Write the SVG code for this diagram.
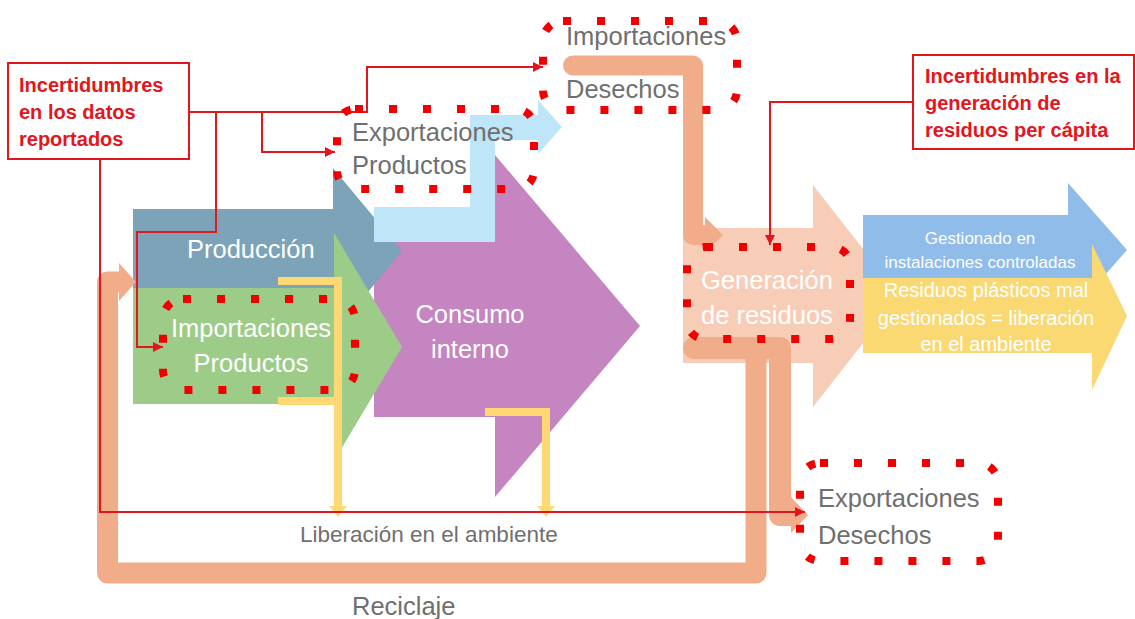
<svg xmlns="http://www.w3.org/2000/svg" width="1135" height="619" viewBox="0 0 1135 619">
<defs>
<style>
.lbl{font-family:"Liberation Sans",Arial,sans-serif;font-size:25.5px;fill:#6f6f6f}
.wht{font-family:"Liberation Sans",Arial,sans-serif;font-size:25.5px;fill:#ffffff}
.sml{font-family:"Liberation Sans",Arial,sans-serif;font-size:17px;fill:#ffffff;text-anchor:middle}
.ylw{font-family:"Liberation Sans",Arial,sans-serif;font-size:20px;fill:#ffffff;text-anchor:middle}
.unc{font-family:"Liberation Sans",Arial,sans-serif;font-size:20px;font-weight:bold;fill:#e3161d}
.dots{fill:none;stroke:#f00000;stroke-width:8;stroke-dasharray:8 26}
.red{fill:none;stroke:#e3161d;stroke-width:2}
.flow{fill:none;stroke:#f1ad8a;stroke-linejoin:round;stroke-linecap:round}
.lib{fill:none;stroke:#fdd873;stroke-width:8}
</style>
<marker id="ah" markerUnits="userSpaceOnUse" markerWidth="10" markerHeight="10" refX="10" refY="5" orient="auto">
<path d="M0,0 L10,5 L0,10 z" fill="#e3161d"/>
</marker>
</defs>
<rect width="1135" height="619" fill="#ffffff"/>

<g id="consumo">
<polygon points="374,215 495,215 495,155 640,326 495,497 495,417 374,417" fill="#c585c1"/>
</g>
<g id="produccion">
<polygon points="133,209 333,209 333,168 402,251 333,334 333,293 133,293" fill="#7ca3b8"/>
</g>
<g id="importaciones-productos">
<polygon points="133,288 334,288 334,233 402,347 334,461 334,404 133,404" fill="#9dcc88"/>
</g>
<g id="exportaciones-productos">
<polygon points="374,207 470,207 470,115 538,115 538,100 562,127 538,154 538,140 495,140 495,242 374,242" fill="#bfe6f8"/>
</g>
<g id="generacion">
<polygon points="683,228 813,228 813,185 900,296 813,407 813,363 683,363" fill="#f8cdb7"/>
</g>
<g id="gestionado">
<polygon points="863,215 1068,215 1068,183 1127,250 1068,317 1068,278 863,278" fill="#8fbce9"/>
</g>
<g id="mal-gestionado">
<polygon points="863,278 1092,278 1092,244 1127,316 1092,390 1092,353 863,353" fill="#fad872"/>
</g>

<g id="connectors">
<path class="flow" stroke-width="20" d="M573,65.5 H693 V235 H706"/>
<polygon points="705,217 723,235 705,253" fill="#f1ad8a"/>
<path class="flow" stroke-width="22" d="M694,348 H780 V515 H792"/>
<polygon points="791,497 808,515 791,533" fill="#f1ad8a"/>
<path class="flow" stroke-width="21" stroke-linecap="butt" d="M756,356 V573 H107.5 V282 H119"/>
<polygon points="119,263 136,282 119,301" fill="#f1ad8a"/>
<path class="lib" d="M278,281 H338 V507 M278,401 H338"/>
<polygon points="329,506 347,506 338,517" fill="#fdd873"/>
<path class="lib" d="M485,412 H546 V507"/>
<polygon points="537,506 555,506 546,517" fill="#fdd873"/>
<path class="red" d="M190,112 H367 V67 H543" marker-end="url(#ah)"/>
<path class="red" d="M262,112 V152 H335" marker-end="url(#ah)"/>
<path class="red" d="M216,112 V232 H137 V347 H163" marker-end="url(#ah)"/>
<path class="red" d="M100,160 V512 H805" marker-end="url(#ah)"/>
<path class="red" d="M913,102 H770 V245" marker-end="url(#ah)"/>
</g>

<g id="box-datos">
<rect x="8" y="63" width="181" height="96" fill="#ffffff" stroke="#e3161d" stroke-width="2"/>
<text class="unc" x="19" y="92">Incertidumbres</text>
<text class="unc" x="19" y="119">en los datos</text>
<text class="unc" x="19" y="146">reportados</text>
</g>
<g id="box-generacion">
<rect x="913" y="55" width="221" height="94" fill="#ffffff" stroke="#e3161d" stroke-width="2"/>
<text class="unc" x="925" y="83">Incertidumbres en la</text>
<text class="unc" x="925" y="110">generación de</text>
<text class="unc" x="925" y="137">residuos per cápita</text>
</g>

<g id="importaciones-desechos">
<rect class="dots" x="543" y="21" width="194" height="89" rx="20"/>
<text class="lbl" x="566" y="45">Importaciones</text>
<text class="lbl" x="566" y="98">Desechos</text>
</g>
<g id="exportaciones-productos-label">
<rect class="dots" x="337" y="109" width="197" height="80" rx="18"/>
<text class="lbl" x="352" y="141">Exportaciones</text>
<text class="lbl" x="352" y="174">Productos</text>
</g>
<g id="produccion-label">
<text class="wht" x="187" y="258">Producción</text>
</g>
<g id="importaciones-productos-label">
<rect class="dots" x="163" y="299" width="192" height="91" rx="20"/>
<text class="wht" x="251" y="337" text-anchor="middle">Importaciones</text>
<text class="wht" x="251" y="372" text-anchor="middle">Productos</text>
</g>
<g id="consumo-label">
<text class="wht" x="470" y="323" text-anchor="middle">Consumo</text>
<text class="wht" x="470" y="358" text-anchor="middle">interno</text>
</g>
<g id="generacion-label">
<rect class="dots" x="687" y="247" width="163" height="92" rx="18"/>
<text class="wht" x="701" y="289">Generación</text>
<text class="wht" x="701" y="324">de residuos</text>
</g>
<g id="gestionado-label">
<text class="sml" x="980" y="244">Gestionado en</text>
<text class="sml" x="980" y="268">instalaciones controladas</text>
</g>
<g id="mal-gestionado-label">
<text class="ylw" x="986" y="297">Residuos plásticos mal</text>
<text class="ylw" x="986" y="325">gestionados = liberación</text>
<text class="ylw" x="986" y="351">en el ambiente</text>
</g>
<g id="exportaciones-desechos">
<rect class="dots" x="800" y="463" width="198" height="98" rx="20"/>
<text class="lbl" x="818" y="507">Exportaciones</text>
<text class="lbl" x="818" y="544">Desechos</text>
</g>
<g id="liberacion">
<text class="lbl" x="300" y="542" style="font-size:22.5px">Liberación en el ambiente</text>
</g>
<g id="reciclaje">
<text class="lbl" x="352" y="615">Reciclaje</text>
</g>
</svg>
